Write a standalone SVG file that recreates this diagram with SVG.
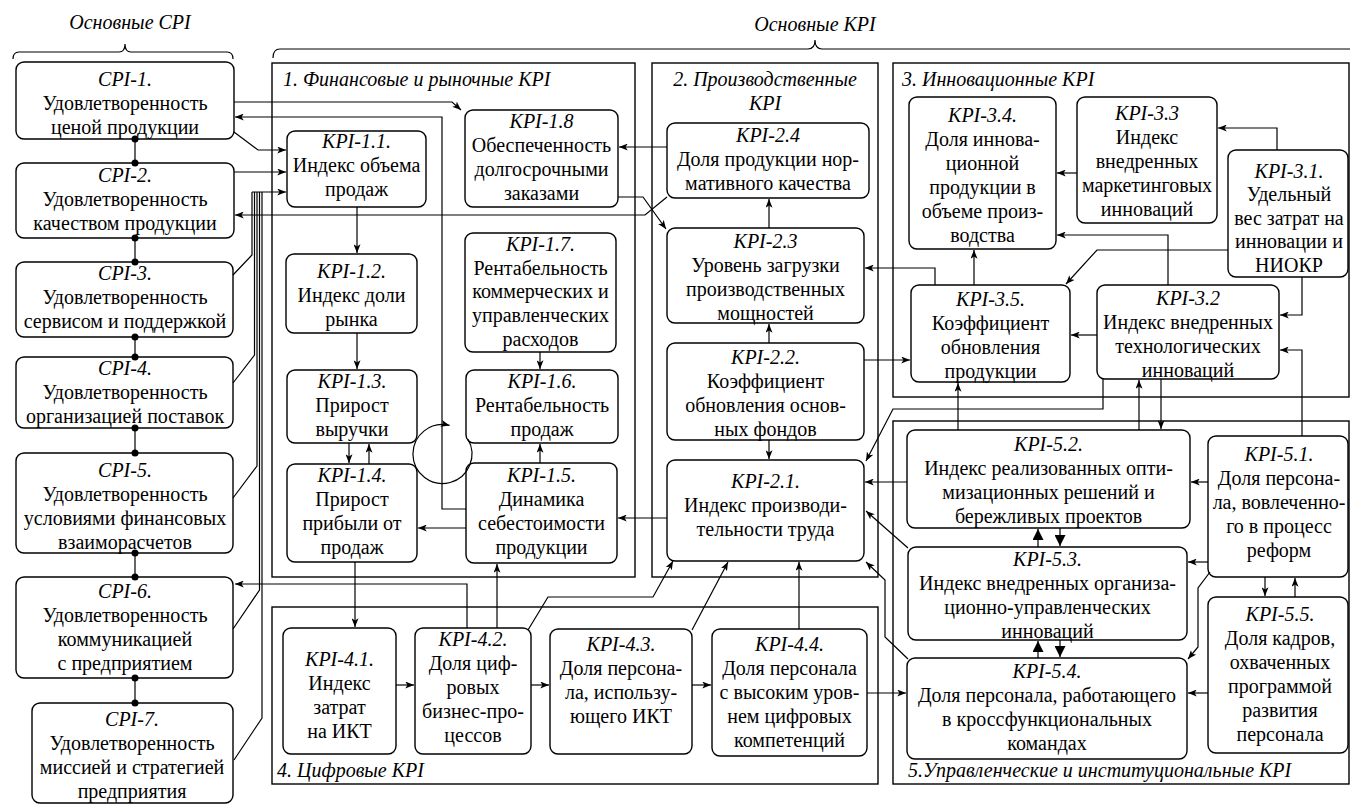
<svg xmlns="http://www.w3.org/2000/svg" width="1350" height="805" viewBox="0 0 1350 805">
<style>
text{font-family:"Liberation Serif","Times New Roman",serif;font-size:20px;fill:#000}
.m{text-anchor:middle}
.i{font-style:italic}
.box{fill:#fff;stroke:#000;stroke-width:1.4}
.grp{fill:none;stroke:#000;stroke-width:1.4}
.c{fill:none;stroke:#000;stroke-width:1.2}
.a{marker-end:url(#ar)}
.b{marker-end:url(#big)}
.dot{fill:#000}
</style>
<defs>
<marker id="ar" viewBox="0 0 10 8" refX="10" refY="4" markerWidth="9" markerHeight="7" orient="auto" markerUnits="userSpaceOnUse"><path d="M0,0 L10,4 L0,8 L2.5,4 z" fill="#000"/></marker>
<marker id="big" viewBox="0 0 10 10" refX="10" refY="5" markerWidth="11" markerHeight="11" orient="auto" markerUnits="userSpaceOnUse"><path d="M0,0 L10,5 L0,10 z" fill="#000"/></marker>
</defs>

<g id="headers">
<text class="i m" x="130" y="29">Основные CPI</text>
<path class="c" d="M13,59 Q13,52 19,52 L119,52 Q125,52 125,44 Q125,52 131,52 L227,52 Q233,52 233,59"/>
<text class="i m" x="815" y="31">Основные KPI</text>
<path class="c" d="M273,58 Q273,49 280,49 L808,49 Q815,49 815,40 Q815,49 822,49 L1350,49"/>
</g>

<g id="groups">
<g id="group-1"><rect class="grp" x="272" y="63" width="363" height="514"/><text class="i" x="283" y="86">1. Финансовые и рыночные KPI</text></g>
<g id="group-2"><rect class="grp" x="652" y="63" width="226" height="514"/><text class="i m" x="765" y="86">2. Производственные</text><text class="i m" x="765" y="110">KPI</text></g>
<g id="group-3"><rect class="grp" x="893" y="63" width="456" height="334"/><text class="i" x="902" y="86">3. Инновационные KPI</text></g>
<g id="group-4"><rect class="grp" x="272" y="607" width="606" height="177"/><text class="i" x="277" y="777">4. Цифровые KPI</text></g>
<g id="group-5"><rect class="grp" x="893" y="421" width="456" height="363"/><text class="i" x="908" y="777">5.Управленческие и институциональные KPI</text></g>
</g>

<g id="nodes">
<g id="CPI-1"><rect class="box" x="16" y="62" width="218" height="77" rx="8"/><text class="m"><tspan class="i" x="125" y="86">CPI-1.</tspan><tspan x="125" y="110">Удовлетворенность</tspan><tspan x="125" y="134">ценой продукции</tspan></text></g>
<g id="CPI-2"><rect class="box" x="16" y="163" width="218" height="75" rx="8"/><text class="m"><tspan class="i" x="125" y="182">CPI-2.</tspan><tspan x="125" y="206">Удовлетворенность</tspan><tspan x="125" y="230">качеством продукции</tspan></text></g>
<g id="CPI-3"><rect class="box" x="16" y="262" width="217" height="75" rx="8"/><text class="m"><tspan class="i" x="125" y="280">CPI-3.</tspan><tspan x="125" y="304">Удовлетворенность</tspan><tspan x="125" y="328">сервисом и поддержкой</tspan></text></g>
<g id="CPI-4"><rect class="box" x="16" y="357" width="217" height="71" rx="8"/><text class="m"><tspan class="i" x="125" y="375">CPI-4.</tspan><tspan x="125" y="399">Удовлетворенность</tspan><tspan x="125" y="423">организацией поставок</tspan></text></g>
<g id="CPI-5"><rect class="box" x="16" y="453" width="217" height="100" rx="8"/><text class="m"><tspan class="i" x="125" y="477">CPI-5.</tspan><tspan x="125" y="501">Удовлетворенность</tspan><tspan x="125" y="525">условиями финансовых</tspan><tspan x="125" y="549">взаиморасчетов</tspan></text></g>
<g id="CPI-6"><rect class="box" x="16" y="577" width="217" height="101" rx="8"/><text class="m"><tspan class="i" x="125" y="598">CPI-6.</tspan><tspan x="125" y="622">Удовлетворенность</tspan><tspan x="125" y="646">коммуникацией</tspan><tspan x="125" y="670">с предприятием</tspan></text></g>
<g id="CPI-7"><rect class="box" x="32" y="703" width="201" height="100" rx="8"/><text class="m"><tspan class="i" x="132" y="726">CPI-7.</tspan><tspan x="132" y="750">Удовлетворенность</tspan><tspan x="132" y="774">миссией и стратегией</tspan><tspan x="132" y="798">предприятия</tspan></text></g>

<g id="KPI-1.1"><rect class="box" x="287" y="131" width="139" height="76" rx="8"/><text class="m"><tspan class="i" x="356.5" y="148">KPI-1.1.</tspan><tspan x="356.5" y="172">Индекс объема</tspan><tspan x="356.5" y="196">продаж</tspan></text></g>
<g id="KPI-1.2"><rect class="box" x="286" y="254" width="131" height="79" rx="8"/><text class="m"><tspan class="i" x="351.5" y="278">KPI-1.2.</tspan><tspan x="351.5" y="302">Индекс доли</tspan><tspan x="351.5" y="326">рынка</tspan></text></g>
<g id="KPI-1.3"><rect class="box" x="287" y="370" width="130" height="73" rx="8"/><text class="m"><tspan class="i" x="352" y="388">KPI-1.3.</tspan><tspan x="352" y="412">Прирост</tspan><tspan x="352" y="436">выручки</tspan></text></g>
<g id="KPI-1.4"><rect class="box" x="287" y="464" width="130" height="98" rx="8"/><text class="m"><tspan class="i" x="352" y="482">KPI-1.4.</tspan><tspan x="352" y="506">Прирост</tspan><tspan x="352" y="530">прибыли от</tspan><tspan x="352" y="554">продаж</tspan></text></g>
<g id="KPI-1.5"><rect class="box" x="466" y="463" width="151" height="100" rx="8"/><text class="m"><tspan class="i" x="541.5" y="482">KPI-1.5.</tspan><tspan x="541.5" y="506">Динамика</tspan><tspan x="541.5" y="530">себестоимости</tspan><tspan x="541.5" y="554">продукции</tspan></text></g>
<g id="KPI-1.6"><rect class="box" x="466" y="370" width="152" height="73" rx="8"/><text class="m"><tspan class="i" x="542" y="388">KPI-1.6.</tspan><tspan x="542" y="412">Рентабельность</tspan><tspan x="542" y="436">продаж</tspan></text></g>
<g id="KPI-1.7"><rect class="box" x="465" y="233" width="151" height="119" rx="8"/><text class="m"><tspan class="i" x="540.5" y="251">KPI-1.7.</tspan><tspan x="540.5" y="275">Рентабельность</tspan><tspan x="540.5" y="298">коммерческих и</tspan><tspan x="540.5" y="322">управленческих</tspan><tspan x="540.5" y="346">расходов</tspan></text></g>
<g id="KPI-1.8"><rect class="box" x="465" y="110" width="153" height="97" rx="8"/><text class="m"><tspan class="i" x="541.5" y="128">KPI-1.8</tspan><tspan x="541.5" y="152">Обеспеченность</tspan><tspan x="541.5" y="176">долгосрочными</tspan><tspan x="541.5" y="200">заказами</tspan></text></g>

<g id="KPI-2.4"><rect class="box" x="667" y="123" width="202" height="75" rx="8"/><text class="m"><tspan class="i" x="768" y="142">KPI-2.4</tspan><tspan x="768" y="166">Доля продукции нор-</tspan><tspan x="768" y="190">мативного качества</tspan></text></g>
<g id="KPI-2.3"><rect class="box" x="667" y="228" width="197" height="95" rx="8"/><text class="m"><tspan class="i" x="765.5" y="248">KPI-2.3</tspan><tspan x="765.5" y="272">Уровень загрузки</tspan><tspan x="765.5" y="296">производственных</tspan><tspan x="765.5" y="320">мощностей</tspan></text></g>
<g id="KPI-2.2"><rect class="box" x="667" y="343" width="197" height="97" rx="8"/><text class="m"><tspan class="i" x="765.5" y="364">KPI-2.2.</tspan><tspan x="765.5" y="388">Коэффициент</tspan><tspan x="765.5" y="412">обновления основ-</tspan><tspan x="765.5" y="436">ных фондов</tspan></text></g>
<g id="KPI-2.1"><rect class="box" x="667" y="460" width="197" height="101" rx="8"/><text class="m"><tspan class="i" x="765.5" y="488">KPI-2.1.</tspan><tspan x="765.5" y="512">Индекс производи-</tspan><tspan x="765.5" y="536">тельности труда</tspan></text></g>

<g id="KPI-3.4"><rect class="box" x="909" y="97" width="147" height="152" rx="8"/><text class="m"><tspan class="i" x="982.5" y="122">KPI-3.4.</tspan><tspan x="982.5" y="146">Доля иннова-</tspan><tspan x="982.5" y="170">ционной</tspan><tspan x="982.5" y="194">продукции в</tspan><tspan x="982.5" y="218">объеме произ-</tspan><tspan x="982.5" y="242">водства</tspan></text></g>
<g id="KPI-3.3"><rect class="box" x="1077" y="97" width="140" height="126" rx="8"/><text class="m"><tspan class="i" x="1147" y="120">KPI-3.3</tspan><tspan x="1147" y="144">Индекс</tspan><tspan x="1147" y="168">внедренных</tspan><tspan x="1147" y="192">маркетинговых</tspan><tspan x="1147" y="216">инноваций</tspan></text></g>
<g id="KPI-3.1"><rect class="box" x="1228" y="150" width="120" height="127" rx="8"/><text class="m"><tspan class="i" x="1289" y="178">KPI-3.1.</tspan><tspan x="1289" y="201">Удельный</tspan><tspan x="1289" y="225">вес затрат на</tspan><tspan x="1289" y="248">инновации и</tspan><tspan x="1289" y="272">НИОКР</tspan></text></g>
<g id="KPI-3.5"><rect class="box" x="911" y="285" width="159" height="97" rx="8"/><text class="m"><tspan class="i" x="990.5" y="306">KPI-3.5.</tspan><tspan x="990.5" y="330">Коэффициент</tspan><tspan x="990.5" y="354">обновления</tspan><tspan x="990.5" y="378">продукции</tspan></text></g>
<g id="KPI-3.2"><rect class="box" x="1097" y="285" width="182" height="94" rx="8"/><text class="m"><tspan class="i" x="1188" y="305">KPI-3.2</tspan><tspan x="1188" y="329">Индекс внедренных</tspan><tspan x="1188" y="353">технологических</tspan><tspan x="1188" y="377">инноваций</tspan></text></g>

<g id="KPI-5.2"><rect class="box" x="907" y="430" width="283" height="98" rx="8"/><text class="m"><tspan class="i" x="1048.5" y="451">KPI-5.2.</tspan><tspan x="1048.5" y="475">Индекс реализованных опти-</tspan><tspan x="1048.5" y="499">мизационных решений и</tspan><tspan x="1048.5" y="523">бережливых проектов</tspan></text></g>
<g id="KPI-5.1"><rect class="box" x="1208" y="436" width="140" height="141" rx="8"/><text class="m"><tspan class="i" x="1279" y="461">KPI-5.1.</tspan><tspan x="1279" y="485">Доля персона-</tspan><tspan x="1279" y="509">ла, вовлеченно-</tspan><tspan x="1279" y="533">го в процесс</tspan><tspan x="1279" y="557">реформ</tspan></text></g>
<g id="KPI-5.3"><rect class="box" x="908" y="547" width="279" height="93" rx="8"/><text class="m"><tspan class="i" x="1047.5" y="566">KPI-5.3.</tspan><tspan x="1047.5" y="590">Индекс внедренных организа-</tspan><tspan x="1047.5" y="614">ционно-управленческих</tspan><tspan x="1047.5" y="638">инноваций</tspan></text></g>
<g id="KPI-5.4"><rect class="box" x="907" y="658" width="280" height="101" rx="8"/><text class="m"><tspan class="i" x="1047" y="678">KPI-5.4.</tspan><tspan x="1047" y="702">Доля персонала, работающего</tspan><tspan x="1047" y="726">в кроссфункциональных</tspan><tspan x="1047" y="750">командах</tspan></text></g>
<g id="KPI-5.5"><rect class="box" x="1208" y="597" width="140" height="156" rx="8"/><text class="m"><tspan class="i" x="1280" y="621">KPI-5.5.</tspan><tspan x="1280" y="645">Доля кадров,</tspan><tspan x="1280" y="669">охваченных</tspan><tspan x="1280" y="693">программой</tspan><tspan x="1280" y="717">развития</tspan><tspan x="1280" y="741">персонала</tspan></text></g>

<g id="KPI-4.1"><rect class="box" x="283" y="628" width="113" height="126" rx="8"/><text class="m"><tspan class="i" x="339.5" y="666">KPI-4.1.</tspan><tspan x="339.5" y="690">Индекс</tspan><tspan x="339.5" y="714">затрат</tspan><tspan x="339.5" y="738">на ИКТ</tspan></text></g>
<g id="KPI-4.2"><rect class="box" x="415" y="628" width="116" height="126" rx="8"/><text class="m"><tspan class="i" x="473" y="646">KPI-4.2.</tspan><tspan x="473" y="670">Доля циф-</tspan><tspan x="473" y="694">ровых</tspan><tspan x="473" y="718">бизнес-про-</tspan><tspan x="473" y="742">цессов</tspan></text></g>
<g id="KPI-4.3"><rect class="box" x="550" y="629" width="142" height="125" rx="8"/><text class="m"><tspan class="i" x="621" y="651">KPI-4.3.</tspan><tspan x="621" y="675">Доля персона-</tspan><tspan x="621" y="699">ла, использу-</tspan><tspan x="621" y="723">ющего ИКТ</tspan></text></g>
<g id="KPI-4.4"><rect class="box" x="712" y="629" width="155" height="127" rx="8"/><text class="m"><tspan class="i" x="789.5" y="651">KPI-4.4.</tspan><tspan x="789.5" y="675">Доля персонала</tspan><tspan x="789.5" y="699">с высоким уров-</tspan><tspan x="789.5" y="723">нем цифровых</tspan><tspan x="789.5" y="747">компетенций</tspan></text></g>
</g>

<g id="connectors">
<path class="c" d="M135,139 V163 M135,238 V262 M135,337 V357 M135,428 V453 M135,553 V577 M135,678 V703"/>
<g class="dot">
<circle cx="135" cy="139" r="3.5"/><circle cx="135" cy="163" r="3.5"/>
<circle cx="135" cy="238" r="3.5"/><circle cx="135" cy="262" r="3.5"/>
<circle cx="135" cy="337" r="3.5"/><circle cx="135" cy="357" r="3.5"/>
<circle cx="135" cy="428" r="3.5"/><circle cx="135" cy="453" r="3.5"/>
<circle cx="135" cy="553" r="3.5"/><circle cx="135" cy="577" r="3.5"/>
<circle cx="135" cy="678" r="3.5"/><circle cx="135" cy="703" r="3.5"/>
</g>
<path class="c a" d="M234,102 H452 L461,110"/>
<path class="c a" d="M466,509 H442 V117 H235"/>
<path class="c a" d="M234,132 L258,150 H286"/>
<path class="c a" d="M234,172 H286"/>
<path class="c a" d="M667,197 L645,215 H235"/>
<path class="c" d="M233,275 L252,255 V192 M233,383 L254.5,355 V192 M233,498 L257,466 V192 M233,629 L259.5,590 V192 M234,760 L262,718 V192"/>
<path class="c a" d="M252,192 H286"/>
<path class="c a" d="M467,628 V584 H235"/>
<path class="c a" d="M357,207 V253"/>
<path class="c a" d="M357,333 V369"/>
<path class="c a" d="M349,443 V463"/>
<path class="c a" d="M369,464 V444"/>
<path class="c a" d="M540,352 V369"/>
<path class="c a" d="M540,463 V444"/>
<path class="c a" d="M466,528 H418"/>
<path class="c a" d="M468,439.3 A29.5,29.5 0 1 1 449.6,425.4"/>
<path class="c a" d="M667,147 H619"/>
<path class="c a" d="M618,197 H643 L666,229"/>
<path class="c a" d="M769,228 V199"/>
<path class="c a" d="M769,343 V324"/>
<path class="c a" d="M769,440 V459"/>
<path class="c a" d="M667,518 H618"/>
<path class="c a" d="M355,562 V627"/>
<path class="c a" d="M497,628 V564"/>
<path class="c a" d="M396,685 H414"/>
<path class="c a" d="M531,685 H549"/>
<path class="c a" d="M692,685 H711"/>
<path class="c a" d="M867,693 H906"/>
<path class="c a" d="M528,630 L548,597 H653 L673,561"/>
<path class="c a" d="M692,630 L728,562"/>
<path class="c a" d="M799,629 V562"/>
<path class="c a" d="M908,659 L885,637 V580 L866,562"/>
<path class="c a" d="M908,548 L866,511"/>
<path class="c a" d="M907,482 H865"/>
<path class="c a" d="M1103,379 V409 H893 L866,461"/>
<path class="c a" d="M864,360 H910"/>
<path class="c a" d="M935,285 V268 H865"/>
<path class="c a" d="M974,285 V250"/>
<path class="c a" d="M1228,250 H1097 L1066,284"/>
<path class="c a" d="M1168,285 V235 H1057"/>
<path class="c a" d="M1077,173 H1057"/>
<path class="c a" d="M1277,150 V128 H1218"/>
<path class="c a" d="M1302,277 V315 H1280"/>
<path class="c a" d="M1302,436 V350 H1280"/>
<path class="c a" d="M1097,335 H1071"/>
<path class="c a" d="M958,430 V383"/>
<path class="c a" d="M1139,430 V380"/>
<path class="c a" d="M1161,379 V429"/>
<path class="c a" d="M1208,482 H1191"/>
<path class="c b" d="M1038,547 V529"/>
<path class="c b" d="M1060,528 V546"/>
<path class="c b" d="M1038,658 V641"/>
<path class="c b" d="M1060,640 V657"/>
<path class="c a" d="M1208,562 H1188"/>
<path class="c a" d="M1210,572 L1198,588 V647 L1188,659"/>
<path class="c a" d="M1265,577 V596"/>
<path class="c a" d="M1295,597 V578"/>
<path class="c a" d="M1208,693 H1188"/>
</g>
</svg>
